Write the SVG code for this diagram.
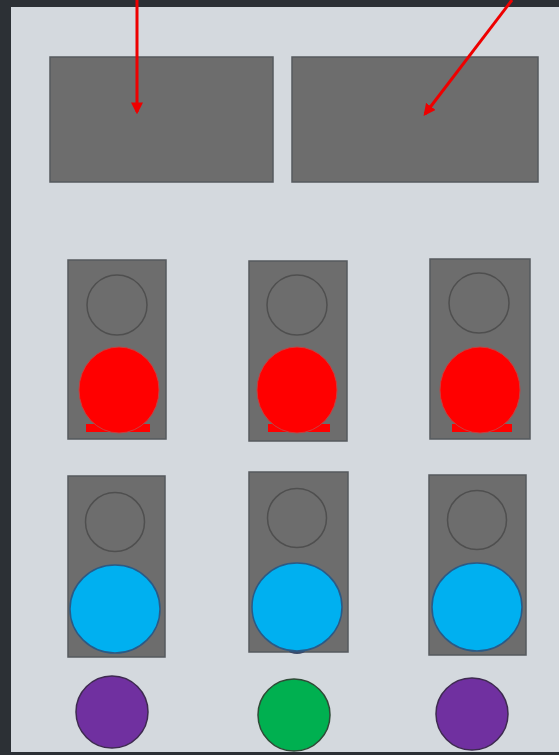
<svg xmlns="http://www.w3.org/2000/svg" width="559" height="755" viewBox="0 0 559 755">
<style>
.box{fill:#6d6d6d;stroke:#555a5e;stroke-width:1.5}
.off{fill:#6d6d6d;stroke:#4f4f4f;stroke-width:1.5}
.red{fill:#ff0000;stroke:#c84040;stroke-width:1}
.blue{fill:#00b0f0;stroke:#2a5a86;stroke-width:1.5}
.purple{fill:#7030a0;stroke:#3e2a50;stroke-width:1.5}
.green{fill:#00b050;stroke:#2f4a36;stroke-width:1.5}
.conn{stroke:#ee0000;stroke-width:3;fill:none}
</style>
<defs>
<marker id="ah" viewBox="0 0 10 10" refX="8" refY="5" markerWidth="4" markerHeight="4" orient="auto" markerUnits="strokeWidth">
<path d="M0,0 L10,5 L0,10 z" fill="#ee0000"/>
</marker>
</defs>
<rect x="0" y="0" width="559" height="755" fill="#2c3035"/>
<rect x="11" y="7" width="548" height="745" fill="#d4d9de"/>
<g id="display1"><rect class="box" x="50" y="57" width="223" height="125"/></g>
<g id="display2"><rect class="box" x="292" y="57" width="246" height="125"/></g>
<g id="light-r1"><rect class="box" x="68" y="260" width="98" height="179"/><circle class="off" cx="117" cy="305" r="30"/><rect x="86" y="424" width="64" height="8" fill="#ff0000"/><ellipse class="red" cx="119" cy="390" rx="40" ry="43"/></g>
<g id="light-r2"><rect class="box" x="249" y="261" width="98" height="180"/><circle class="off" cx="297" cy="305" r="30"/><rect x="268" y="424" width="62" height="8" fill="#ff0000"/><ellipse class="red" cx="297" cy="390" rx="40" ry="43"/></g>
<g id="light-r3"><rect class="box" x="430" y="259" width="100" height="180"/><circle class="off" cx="479" cy="303" r="30"/><rect x="452" y="424" width="60" height="8" fill="#ff0000"/><ellipse class="red" cx="480" cy="390" rx="40" ry="43"/></g>
<g id="light-b1"><rect class="box" x="68" y="476" width="97" height="181"/><circle class="off" cx="115" cy="522" r="29.5"/><ellipse class="blue" cx="115" cy="609" rx="45" ry="44"/></g>
<g id="light-b2"><rect class="box" x="249" y="472" width="99" height="180"/><circle class="off" cx="297" cy="518" r="29.5"/><ellipse cx="297" cy="651" rx="8" ry="3" fill="#3a4a6a"/><ellipse class="blue" cx="297" cy="607" rx="45" ry="44"/></g>
<g id="light-b3"><rect class="box" x="429" y="475" width="97" height="180"/><circle class="off" cx="477" cy="520" r="29.5"/><ellipse class="blue" cx="477" cy="607" rx="45" ry="44"/></g>
<g id="dot1"><circle class="purple" cx="112" cy="712" r="36"/></g>
<g id="dot2"><circle class="green" cx="294" cy="715" r="36"/></g>
<g id="dot3"><circle class="purple" cx="472" cy="714" r="36"/></g>
<g id="connectors">
<line class="conn" x1="137" y1="0" x2="137" y2="112" marker-end="url(#ah)"/>
<line class="conn" x1="512" y1="0" x2="425" y2="114" marker-end="url(#ah)"/>
</g>
</svg>
